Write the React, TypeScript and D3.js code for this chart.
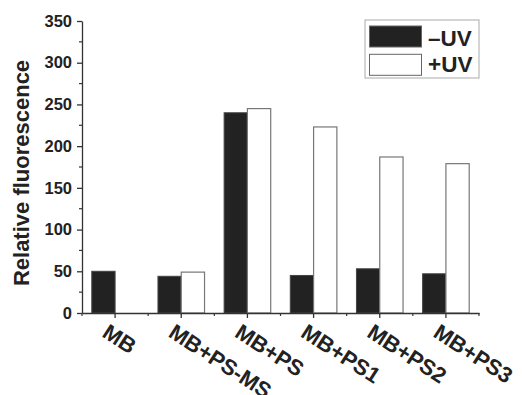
import { useRef, useEffect } from "react";
import * as d3 from "d3";

const categories = ["MB", "MB+PS-MS", "MB+PS", "MB+PS1", "MB+PS2", "MB+PS3"];
const minusUV = [50, 44, 240, 45, 53, 47];
const plusUV = [0, 49, 245, 223, 187, 179];
const seriesNames = ["\u2013UV", "+UV"];
const yTicks = [0, 50, 100, 150, 200, 250, 300, 350];

const App = () => {
	const svgRef = useRef<SVGSVGElement>(null);

	useEffect(() => {
		const w = 522;
		const h = 395;
		const left = 82, right = 479, top = 21, bottom = 313;
		const font = "'Liberation Sans', Arial, sans-serif";
		const ink = "#222";

		const svg = d3.select(svgRef.current)
			.attr("width", w)
			.attr("height", h);
		svg.selectAll("*").remove();

		const x = d3.scaleBand()
			.domain(categories)
			.range([left, right])
			.padding(0);

		const y = d3.scaleLinear()
			.domain([0, 350])
			.range([bottom, top]);

		const barW = x.bandwidth() * 0.352;

		// bars
		const g = svg.append("g");
		g.selectAll("rect.minus")
			.data(minusUV)
			.join("rect")
			.attr("class", "minus")
			.attr("x", (d, i) => x(categories[i])! + x.bandwidth() / 2 - barW)
			.attr("y", d => y(d))
			.attr("width", barW)
			.attr("height", d => y(0) - y(d))
			.attr("fill", "#222")
			.attr("stroke", "#444")
			.attr("stroke-width", 1);

		g.selectAll("rect.plus")
			.data(plusUV)
			.join("rect")
			.attr("class", "plus")
			.attr("x", (d, i) => x(categories[i])! + x.bandwidth() / 2)
			.attr("y", d => y(d))
			.attr("width", barW)
			.attr("height", d => y(0) - y(d))
			.attr("fill", "#fff")
			.attr("stroke", d => (d > 0 ? "#777" : "none"))
			.attr("stroke-width", 1.2);

		// y axis
		const yAxis = d3.axisLeft(y)
			.tickValues(yTicks)
			.tickSize(5)
			.tickPadding(5)
			.tickSizeOuter(0);
		const ya = svg.append("g")
			.attr("transform", `translate(${left}, 0)`)
			.call(yAxis);
		ya.selectAll("text")
			.attr("font-family", font)
			.attr("font-weight", "bold")
			.attr("font-size", 16.5)
			.attr("fill", ink);
		ya.selectAll("line, path").attr("stroke", "#333").attr("stroke-width", 1.3);
		// minor ticks
		ya.selectAll("line.minor")
			.data(d3.range(25, 350, 50))
			.join("line")
			.attr("class", "minor")
			.attr("x1", -3)
			.attr("x2", 0)
			.attr("y1", d => y(d))
			.attr("y2", d => y(d))
			.attr("stroke", "#333")
			.attr("stroke-width", 1.2);

		// x axis
		const xAxis = d3.axisBottom(x)
			.tickSize(5)
			.tickSizeOuter(0)
			.tickFormat(() => "");
		const xa = svg.append("g")
			.attr("transform", `translate(0, ${bottom})`)
			.call(xAxis);
		xa.selectAll("line, path").attr("stroke", "#333").attr("stroke-width", 1.3);
		xa.selectAll("line.minor")
			.data(d3.range(0, categories.length + 1))
			.join("line")
			.attr("class", "minor")
			.attr("x1", i => left + i * x.step())
			.attr("x2", i => left + i * x.step())
			.attr("y1", 0)
			.attr("y2", 3)
			.attr("stroke", "#333")
			.attr("stroke-width", 1.2);

		// rotated category labels
		svg.append("g")
			.selectAll("text")
			.data(categories)
			.join("text")
			.attr("transform", d => `translate(${x(d)! + x.bandwidth() / 2 - 14}, 336) rotate(33)`)
			.attr("font-family", font)
			.attr("font-weight", "bold")
			.attr("font-size", 22)
			.attr("fill", ink)
			.text(d => d);

		// y title
		svg.append("text")
			.attr("transform", `translate(29, 173) rotate(-90)`)
			.attr("text-anchor", "middle")
			.attr("font-family", font)
			.attr("font-weight", "bold")
			.attr("font-size", 22)
			.attr("fill", ink)
			.text("Relative fluorescence");

		// legend
		const lg = svg.append("g").attr("transform", "translate(365, 20)");
		lg.append("rect")
			.attr("width", 114)
			.attr("height", 58)
			.attr("fill", "#fff")
			.attr("stroke", "#aaa")
			.attr("stroke-width", 1);
		const fills = ["#222", "#fff"];
		seriesNames.forEach((name, i) => {
			lg.append("rect")
				.attr("x", 4.5)
				.attr("y", 6 + i * 28.3)
				.attr("width", 52)
				.attr("height", 21)
				.attr("fill", fills[i])
				.attr("stroke", "#666")
				.attr("stroke-width", 1);
			lg.append("text")
				.attr("x", 63)
				.attr("y", 25.7 + i * 26.6)
				.attr("font-family", font)
				.attr("font-weight", "bold")
				.attr("font-size", 22.5)
				.attr("fill", ink)
				.text(name);
		});
	}, []);

	return (
		<div>
			<svg ref={svgRef} style={{ position: "absolute", left: 0, top: 0 }}></svg>
		</div>
	);
};

export default App;
